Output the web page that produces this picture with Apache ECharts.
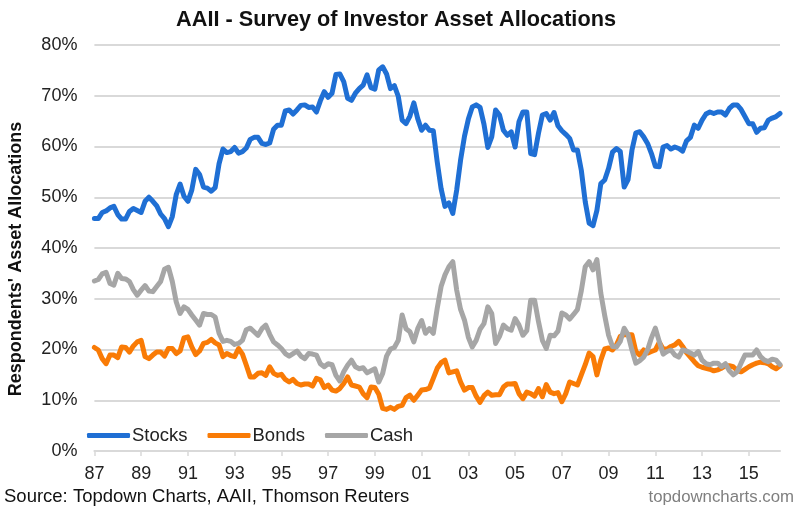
<!DOCTYPE html>
<html lang="en">
<head>
<meta charset="utf-8">
<title>AAII - Survey of Investor Asset Allocations</title>
<script src="https://cdn.jsdelivr.net/npm/echarts@6/dist/echarts.min.js"></script>
<style>
  html, body { margin: 0; padding: 0; background: #fff; }
  #chart { width: 800px; height: 515px; }
</style>
</head>
<body>
<div id="chart"></div>
<script>
// one reading every two months from Jan 1987
var stocks = [
  45.8,45.8,47.0,47.3,47.9,48.2,46.6,45.7,45.7,47.2,47.8,47.4,47.0,49.2,50.0,49.2,48.3,46.7,45.8,44.2,
  46.2,50.5,52.6,50.2,49.2,51.4,55.5,54.5,52.0,51.8,51.2,51.9,56.6,59.5,58.8,59.0,59.8,58.7,59.0,59.7,
  61.4,61.8,61.8,60.6,60.4,60.7,63.4,64.2,64.2,67.0,67.2,66.4,67.2,68.1,68.2,67.7,67.8,66.8,69.0,70.8,
  69.7,70.5,74.2,74.3,72.8,69.5,69.1,70.5,71.4,72.1,74.1,71.6,71.3,75.1,75.7,74.3,71.4,72.0,69.9,65.2,
  64.5,66.0,68.6,65.5,63.2,64.2,63.2,63.1,57.0,51.7,48.2,48.9,46.8,51.4,57.3,62.0,65.4,67.8,68.2,67.7,
  64.4,59.8,61.9,67.2,66.2,63.2,62.2,62.9,59.9,64.9,66.8,66.8,58.6,58.4,62.6,66.2,66.5,65.2,66.7,64.1,
  63.1,62.4,61.6,59.3,59.3,55.3,49.1,44.9,44.4,47.4,52.7,53.4,55.7,58.9,59.6,59.0,52.0,53.5,59.3,62.7,
  62.9,61.9,60.6,58.6,56.1,56.0,59.9,60.2,59.5,59.9,59.6,59.1,61.1,61.8,64.2,63.6,65.2,66.4,66.8,66.5,
  66.8,66.8,66.2,67.5,68.2,68.2,67.3,65.9,64.5,64.5,62.8,63.6,63.7,65.2,65.6,65.9,66.5
];
var bonds = [
  20.4,19.9,18.2,17.2,18.9,18.9,18.4,20.5,20.4,19.5,20.7,21.5,21.8,18.6,18.2,18.9,19.5,19.5,18.7,20.2,
  20.2,19.2,19.7,22.3,22.5,20.5,19.0,19.7,21.2,21.4,22.0,21.3,20.9,18.6,19.2,18.8,18.6,20.2,19.1,16.9,
  14.6,14.6,15.3,15.4,14.9,16.6,15.3,14.9,15.1,14.1,13.6,14.1,13.3,13.0,13.2,13.2,12.8,14.3,14.0,12.5,
  13.0,12.0,11.8,12.3,13.3,14.6,13.0,12.8,12.6,11.3,10.5,12.6,12.5,11.2,8.4,8.2,8.6,8.2,8.8,9.0,
  10.5,11.0,10.0,11.0,12.0,12.1,12.4,14.3,16.3,17.4,17.9,15.4,15.6,15.8,13.6,12.0,12.5,12.5,10.8,9.6,
  10.9,11.6,11.0,11.1,11.1,12.6,13.2,13.2,13.3,11.3,10.3,11.6,11.3,10.8,12.3,10.7,13.1,11.6,11.3,11.5,
  9.7,11.3,13.6,13.3,13.0,15.0,17.0,19.3,18.6,15.0,17.9,20.1,20.3,19.9,20.9,22.6,22.9,22.9,22.9,19.6,
  18.9,19.9,19.3,19.6,19.9,21.4,20.1,20.1,20.6,20.9,21.6,20.6,19.4,18.5,17.6,16.8,16.5,16.3,16.1,15.8,
  16.0,16.3,16.8,16.8,16.6,15.9,15.6,16.1,16.6,17.0,17.3,17.5,17.4,17.2,16.6,16.2,16.8
];
var cash = [
  33.5,33.8,34.9,35.2,33.0,32.7,35.0,34.0,33.9,33.4,31.8,30.7,31.7,32.6,31.5,31.4,32.4,33.4,35.8,36.2,
  33.4,29.4,27.1,28.4,27.9,26.8,25.8,24.8,27.1,26.9,26.9,26.4,23.2,21.6,21.8,21.6,21.0,21.2,21.8,23.9,
  24.2,23.5,22.8,24.1,24.8,23.0,21.5,20.9,20.2,19.2,18.7,19.2,19.7,18.7,18.2,19.2,19.1,18.9,17.2,16.6,
  17.2,17.0,14.9,13.8,15.6,16.9,17.9,16.6,16.2,16.4,15.4,15.8,16.2,13.6,15.3,18.7,20.1,20.4,21.8,26.8,
  24.1,23.5,21.5,24.1,25.7,23.2,24.1,23.2,28.1,32.4,34.7,36.3,37.3,31.7,27.9,25.8,22.4,20.5,21.8,24.0,
  25.1,28.4,27.1,21.2,22.6,24.8,24.1,23.8,26.1,24.8,22.8,23.7,29.7,29.7,25.5,21.8,20.2,22.8,22.7,23.6,
  27.2,26.8,26.0,26.9,27.9,31.6,36.3,37.3,35.7,37.7,31.1,26.7,22.8,20.6,20.5,21.6,24.2,22.9,19.9,17.3,
  17.8,18.5,19.9,22.3,24.2,21.6,19.1,19.6,19.9,18.9,18.5,19.9,19.7,19.3,18.9,19.6,17.9,17.2,17.0,17.3,
  17.3,16.6,17.2,15.8,15.0,15.6,17.3,18.9,18.9,18.9,19.9,18.6,17.9,17.6,18.1,17.9,17.0
];
var yTicks = ['0%','10%','20%','30%','40%','50%','60%','70%','80%'];

// two digit year for each reading
var months = [];
for (var i = 0; i < stocks.length; i++) {
  var yr = (87 + Math.floor(i / 6)) % 100;
  months.push((yr < 10 ? '0' : '') + yr);
}

var FONT = '"Liberation Sans", Arial, sans-serif';

function lineSeries(name, values, color) {
  return {
    name: name,
    type: 'line',
    data: values,
    symbol: 'none',
    animation: false,
    lineStyle: { width: 5, color: color, cap: 'round', join: 'round' },
    itemStyle: { color: color }
  };
}

var myChart = echarts.init(document.getElementById('chart'), null, { renderer: 'canvas' });
myChart.setOption({
  backgroundColor: '#fff',
  animation: false,
  title: {
    text: 'AAII - Survey of Investor Asset Allocations',
    left: 391, top: 4, textAlign: 'center',
    textStyle: { fontFamily: FONT, fontSize: 21.7, fontWeight: 'bold', color: '#111' }
  },
  legend: {
    left: 82, top: 421,
    icon: 'roundRect',
    itemWidth: 43, itemHeight: 5, itemGap: 20,
    textStyle: { fontFamily: FONT, fontSize: 18.5, color: '#222', padding: [0, 0, 0, -3] },
    data: ['Stocks', 'Bonds', 'Cash']
  },
  grid: { left: 94.4, right: 20, top: 45, bottom: 64 },
  xAxis: {
    type: 'category',
    data: months,
    boundaryGap: false,
    axisLine: { lineStyle: { color: '#d9d9d9', width: 2 } },
    axisTick: { interval: 11, length: 5, lineStyle: { color: '#d9d9d9', width: 1.5 } },
    axisLabel: { interval: 11, margin: 14, fontFamily: FONT, fontSize: 18, color: '#222' }
  },
  yAxis: {
    type: 'value',
    min: 0, max: 80, interval: 10,
    axisLine: { show: false },
    axisTick: { show: false },
    splitLine: { lineStyle: { color: '#d9d9d9', width: 2 } },
    axisLabel: {
      margin: 17, fontFamily: FONT, fontSize: 18, color: '#222',
      formatter: function (v) { return yTicks[v / 10]; }
    }
  },
  series: [
    lineSeries('Stocks', stocks, '#1f6fd4'),
    lineSeries('Bonds', bonds, '#f97b06'),
    lineSeries('Cash', cash, '#a6a6a6')
  ],
  graphic: [
    { type: 'text', x: 16, y: 259, rotation: Math.PI / 2,
      style: { text: "Respondents' Asset Allocations", font: 'bold 18px ' + FONT, fill: '#111', align: 'center', verticalAlign: 'middle' } },
    { type: 'text', left: 4, top: 487,
      style: { text: 'Source: Topdown Charts, AAII, Thomson Reuters', font: '18.5px ' + FONT, fill: '#111' } },
    { type: 'text', right: 6, top: 489,
      style: { text: 'topdowncharts.com', font: '16.8px ' + FONT, fill: '#7f7f7f' } }
  ]
});
</script>
</body>
</html>
